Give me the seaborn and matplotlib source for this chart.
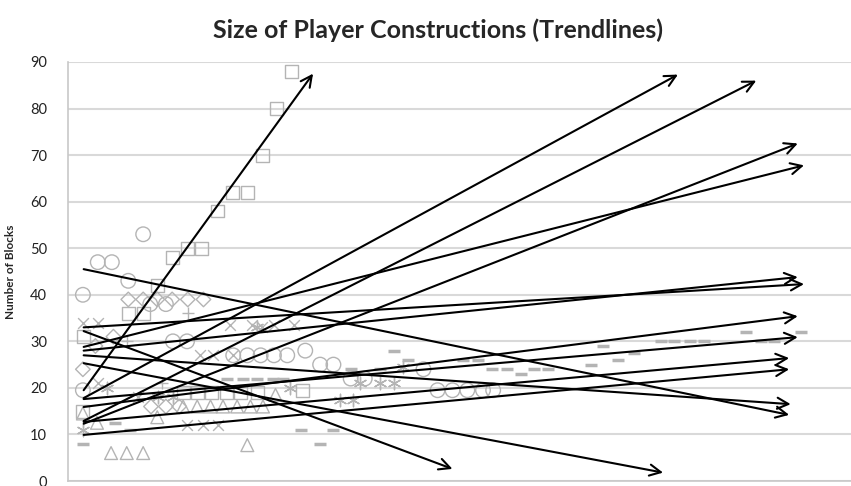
import matplotlib
matplotlib.use("Agg")
import matplotlib.pyplot as plt
import seaborn as sns

# scatter series (x = time position, y = number of blocks)
square_x = [2, 7.7, 9.6, 11.4, 13.3, 15.3, 17.1, 19.1, 21, 22.9, 24.8, 26.6, 28.5,
            1.9, 14.7, 16.5, 18.3, 20.2, 22, 24.2, 30]
square_y = [31, 36, 36, 42, 48, 50, 50, 58, 62, 62, 70, 80, 88,
            15, 19, 19, 19, 19, 19, 19, 19.5]

circle_x = [1.9, 3.8, 5.6, 9.6, 7.7, 21.1, 22.9, 24.6, 26.3, 28, 10.5, 12.5, 1.9,
            13.4, 15.2, 47.2, 49.1, 51, 53, 54.3, 30.3, 32.2, 33.9, 36.1, 37.9, 45.4]
circle_y = [40, 47, 47, 53, 43, 27, 27, 27, 27, 27, 38, 38, 19.5,
            30, 30, 19.5, 19.5, 19.5, 19.5, 19.5, 28, 25, 25, 22, 22, 24]

diamond_x = [7.7, 9.6, 11.4, 13.3, 15.3, 17.3, 1.9, 5.8, 10.6, 12.5, 14.2, 3.5]
diamond_y = [39, 39, 39, 39, 39, 39, 24, 31, 16, 16, 16, 29]

triangle_x = [5.5, 7.5, 9.6, 22.9, 14.7, 16.5, 18.2, 19.8, 21.6, 23.3, 24.9, 3.7, 11.4, 26.5, 1.9]
triangle_y = [6, 6, 6, 7.7, 16, 16, 16, 16, 16, 16, 16, 12.5, 13.7, 18.5, 14.5]

cross_x = [1.9, 3.8, 15.2, 17.3, 19.1, 16.9, 18.5, 21.1, 20.7, 23.5, 26.3, 28.8, 24.8, 3.8, 9]
cross_y = [34, 34, 12, 12, 12, 27, 27, 27, 33.5, 33.5, 33.5, 33.5, 33, 21, 18]

dash_x = [41.6, 43.4, 50.5, 52.4, 36.1, 39.9, 54.2, 56.1, 59.5, 61.3, 66.8, 70.3, 57.8,
          75.7, 77.4, 79.5, 81.2, 86.6, 93.6, 88.5, 90.2, 68.3, 72.3, 29.7, 33.9, 32.2,
          1.9, 20.3, 22.3, 24.2, 26.2, 27.5, 6, 7.9]
dash_y = [28, 26, 26, 26, 24, 24, 24, 24, 24, 24, 25, 26, 23,
          30, 30, 30, 30, 32, 32, 30, 30, 29, 27.5, 11, 11, 8,
          8, 22, 22, 22, 22, 22, 12.5, 11]

plus_x = [15.3, 7.5, 12]
plus_y = [36, 30, 21]

star_x = [42.8, 24.2, 37.3, 39.9, 41.6, 13.4, 28.4, 34.8, 36.4, 1.9, 5, 11.5]
star_y = [24.5, 33, 21, 21, 21, 18, 20, 17.4, 17.4, 11, 20, 18]

# trendlines: start and end of each arrow
trend_x0 = [2, 2, 2, 2, 2, 2, 2, 2, 2, 2, 2, 2, 2, 2, 2]
trend_y0 = [19.5, 17.8, 12.9, 12.3, 28.8, 28.0, 33.0, 15.9, 17.6, 12.7, 9.9, 27.0, 45.5, 32.2, 25.3]
trend_x1 = [31.3, 77.9, 87.9, 93.2, 94.0, 93.2, 94.0, 93.2, 93.2, 92.1, 92.1, 92.3, 92.1, 49.1, 76.0]
trend_y1 = [87.5, 87.3, 86.0, 72.5, 67.8, 43.8, 42.3, 35.4, 30.9, 26.4, 24.0, 16.5, 14.2, 2.6, 1.8]

y_ticks = [0, 10, 20, 30, 40, 50, 60, 70, 80, 90]

sns.set_style("white")
plt.rcParams['font.family'] = ['Lato', 'DejaVu Sans']

fig = plt.figure(figsize=(8.51, 4.86), dpi=100)
ax = fig.add_axes([68 / 851, 5 / 486, 1 - 68 / 851, 419 / 486])

grey = '#b4b4b4'
sns.scatterplot(x=square_x, y=square_y, marker='s', s=85, facecolors='none',
                edgecolor=grey, linewidth=1, ax=ax, zorder=2)
sns.scatterplot(x=circle_x, y=circle_y, marker='o', s=110, facecolors='none',
                edgecolor=grey, linewidth=1, ax=ax, zorder=2)
sns.scatterplot(x=diamond_x, y=diamond_y, marker='D', s=55, facecolors='none',
                edgecolor=grey, linewidth=1, ax=ax, zorder=2)
sns.scatterplot(x=triangle_x, y=triangle_y, marker='^', s=85, facecolors='none',
                edgecolor=grey, linewidth=1, ax=ax, zorder=2)
sns.scatterplot(x=cross_x, y=cross_y, marker='x', s=60, color=grey, linewidth=1, ax=ax, zorder=2)
sns.scatterplot(x=dash_x, y=dash_y, marker='_', s=70, color=grey, linewidth=2.5, ax=ax, zorder=2)
sns.scatterplot(x=plus_x, y=plus_y, marker='+', s=80, color=grey, linewidth=1, ax=ax, zorder=2)
sns.scatterplot(x=star_x, y=star_y, marker=(6, 2, 0), s=80, color=grey, linewidth=1, ax=ax, zorder=2)

for x0, y0, x1, y1 in zip(trend_x0, trend_y0, trend_x1, trend_y1):
    ax.annotate('', xy=(x1, y1), xytext=(x0, y0),
                arrowprops=dict(arrowstyle='->', color='black', lw=1.5,
                                mutation_scale=20, shrinkA=0, shrinkB=0),
                zorder=3)

ax.set_xlim(0, 100)
ax.set_ylim(0, 90)
ax.set_yticks(y_ticks)
ax.set_xticks([])
ax.yaxis.grid(True, color='#d9d9d9', linewidth=1.5)
ax.set_axisbelow(True)
for side in ['top', 'right']:
    ax.spines[side].set_visible(False)
for side in ['left', 'bottom']:
    ax.spines[side].set_color('#c8c8c8')
    ax.spines[side].set_linewidth(1.2)
ax.tick_params(axis='y', length=5, color='#c8c8c8', labelsize=10.5, pad=10, labelcolor='#222222')
ax.set_ylabel('Number of Blocks', fontsize=8.5, fontweight='bold', labelpad=10)

fig.text(438 / 851, 1 - 30 / 486, 'Size of Player Constructions (Trendlines)',
         ha='center', va='center', fontsize=18, fontweight='bold')

fig.savefig('out.png', dpi=100)
